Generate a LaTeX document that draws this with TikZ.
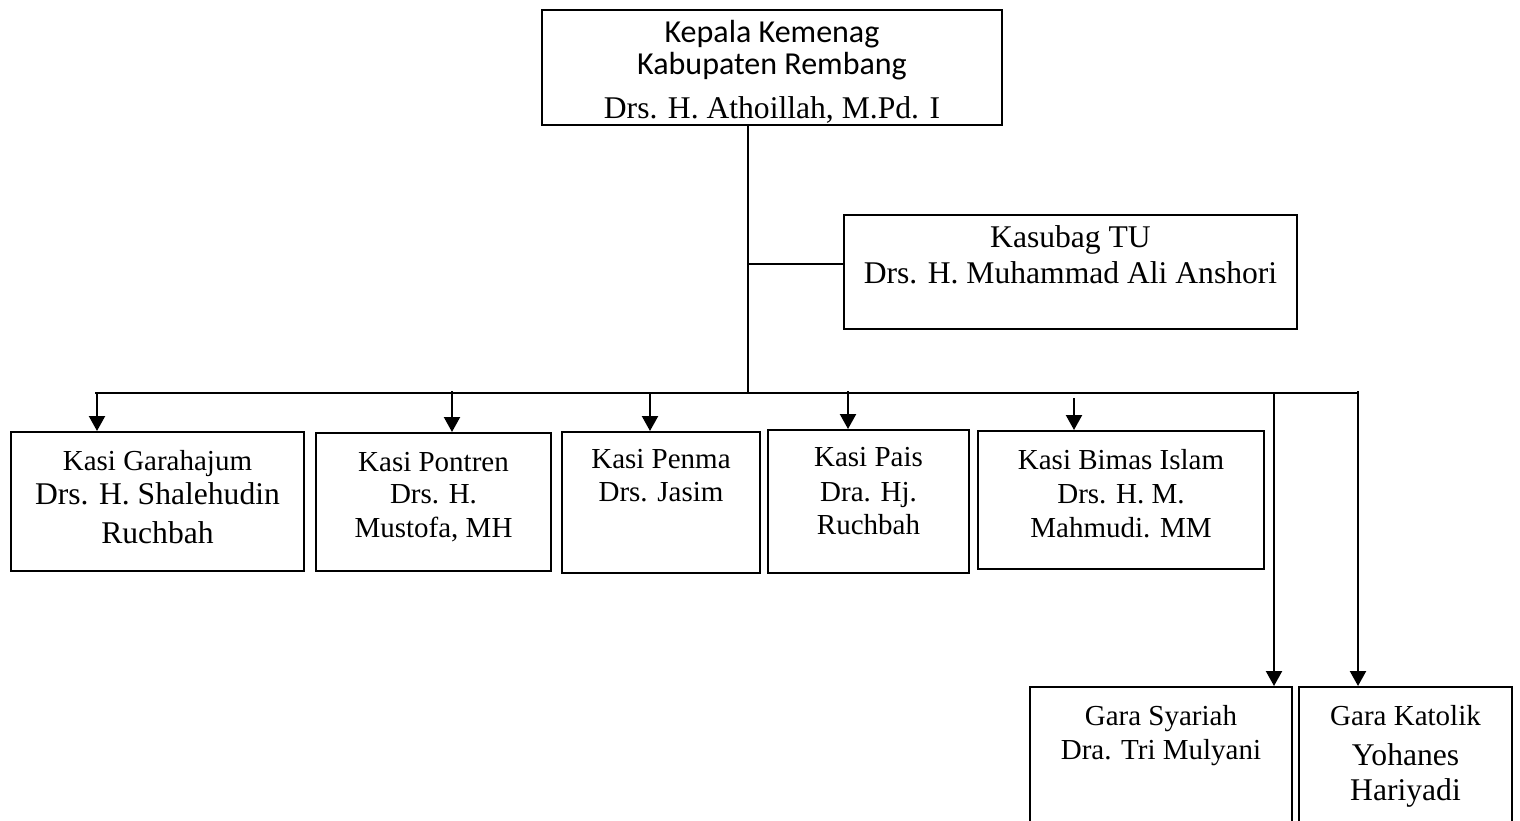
\documentclass[tikz,border=0pt]{standalone}
\usepackage{fontspec}
\setmainfont{Liberation Serif}
\newfontfamily\calfont{Carlito}
\usetikzlibrary{arrows.meta}
\newcommand{\smf}{\fontsize{29}{34}\selectfont}
\newcommand{\bgf}{\fontsize{31.6}{37}\selectfont}
\tikzset{
  x=1pt, y=-1pt,
  box/.style={draw, line width=2pt, rectangle, inner sep=0pt},
  txt/.style={anchor=north, align=center, inner sep=0pt},
  ln/.style={line width=1.8pt},
  arr/.style={line width=2.2pt, -{Triangle[length=15pt,width=16pt]}}
}
\begin{document}
\begin{tikzpicture}
\useasboundingbox (0,0) rectangle (1520,821);
\clip (0,0) rectangle (1520,821);
% boxes
\node[box, minimum width=460pt, minimum height=115pt] (top) at (772,67.5) {};
\node[box, minimum width=453pt, minimum height=114pt] (kas) at (1070.5,272) {};
\node[box, minimum width=293pt, minimum height=139pt] (b1) at (157.5,501.5) {};
\node[box, minimum width=235pt, minimum height=138pt] (b2) at (433.5,502) {};
\node[box, minimum width=198pt, minimum height=141pt] (b3) at (661,502.5) {};
\node[box, minimum width=201pt, minimum height=143pt] (b4) at (868.5,501.5) {};
\node[box, minimum width=286pt, minimum height=138pt] (b5) at (1121,500) {};
\node[box, minimum width=262pt, minimum height=148pt] (b6) at (1161,761) {};
\node[box, minimum width=213pt, minimum height=148pt] (b7) at (1405.5,761) {};
% texts
\node[txt, font=\calfont\fontsize{32}{32}\selectfont] (ttop) at (772,20) {Kepala Kemenag\\Kabupaten Rembang\\[12pt]{\rmfamily\bgf Drs. H. Athoillah, M.Pd. I}};
\node[txt, font=\bgf] (tkas) at (1070.5,225) {Kasubag TU\\[-1pt]Drs. H. Muhammad Ali Anshori};
\node[txt, font=\smf] (t1) at (157.5,450) {Kasi Garahajum\\{\bgf Drs. H. Shalehudin}\\[5pt]{\bgf Ruchbah}};
\node[txt, font=\smf] (t2) at (433.5,452) {Kasi Pontren\\[-2pt]Drs. H.\\Mustofa, MH};
\node[txt, font=\smf] (t3) at (661,449) {Kasi Penma\\[-1pt]Drs. Jasim};
\node[txt, font=\smf] (t4) at (868.5,447) {Kasi Pais\\[1pt]Dra. Hj.\\[-1pt]Ruchbah};
\node[txt, font=\smf] (t5) at (1121,449) {Kasi Bimas Islam\\Drs. H. M.\\Mahmudi. MM};
\node[txt, font=\smf] (t6) at (1161,705) {Gara Syariah\\Dra. Tri Mulyani};
\node[txt, font=\smf] (t7) at (1405.5,705) {Gara Katolik\\[6pt]{\bgf Yohanes}\\[1pt]{\bgf Hariyadi}};
% connectors
\coordinate (j1) at (748,264);
\coordinate (j2) at (748,393);
\coordinate (busL) at (95,393);
\coordinate (busR) at (1359,393);
\draw[ln] (top.south -| j1) -- (j2);
\draw[ln] (j1) -- (j1 -| kas.west);
\draw[ln] (busL) -- (busR);
\coordinate (a1) at (97,393);
\coordinate (a2) at (452,391);
\coordinate (a3) at (650,393);
\coordinate (a4) at (848,391);
\coordinate (a5) at (1074,398);
\coordinate (a6) at (1274,393);
\coordinate (a7) at (1358,391);
\draw[arr] (a1) -- (a1 |- b1.north);
\draw[arr] (a2) -- (a2 |- b2.north);
\draw[arr] (a3) -- (a3 |- b3.north);
\draw[arr] (a4) -- (a4 |- b4.north);
\draw[arr] (a5) -- (a5 |- b5.north);
\draw[arr] (a6) -- (a6 |- b6.north);
\draw[arr] (a7) -- (a7 |- b7.north);
\end{tikzpicture}
\end{document}
